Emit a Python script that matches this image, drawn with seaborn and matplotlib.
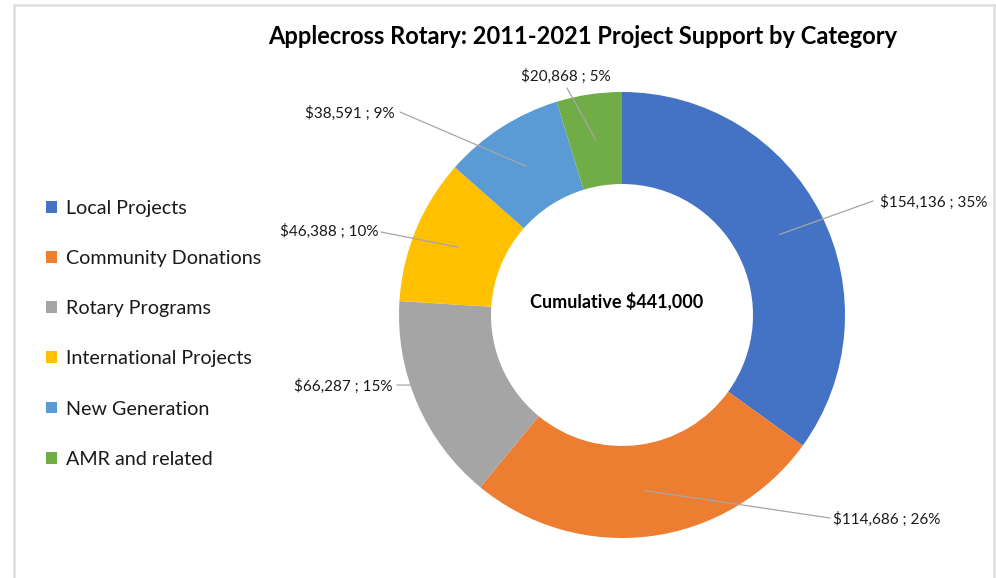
import numpy as np
import matplotlib
matplotlib.use("Agg")
import matplotlib.pyplot as plt
from matplotlib.patches import Rectangle
import seaborn as sns

categories = ["Local Projects", "Community Donations", "Rotary Programs",
              "International Projects", "New Generation", "AMR and related"]
values = [154136, 114686, 66287, 46388, 38591, 20868]
percents = [35, 26, 15, 10, 9, 5]
colors = ["#4472C4", "#ED7D31", "#A5A5A5", "#FFC000", "#5B9BD5", "#70AD47"]
title = "Applecross Rotary: 2011-2021 Project Support by Category"
center_label = "Cumulative $441,000"

sns.set_theme(style="white")
plt.rcParams["font.family"] = ["Lato", "DejaVu Sans"]

W, H = 996, 578
CX, CY, R = 622, 315, 223  # pixel layout of the donut
RIN = 131

fig = plt.figure(figsize=(W / 100, H / 100), dpi=100)
ax = fig.add_axes([0, 0, 1, 1])

wedges, _ = ax.pie(values, colors=colors, startangle=90, counterclock=False,
                   radius=1.0, wedgeprops=dict(width=1 - RIN / R, linewidth=0))
ax.set_aspect("auto")
ax.set_xlim(-CX / R, (W - CX) / R)
ax.set_ylim(-(H - CY) / R, CY / R)
ax.axis("off")


def px(x, y):
    return ((x - CX) / R, (CY - y) / R)


# label layout: (text x, text y, ha, line end x, line end y) in pixels
label_layout = [
    (880, 202, "left", 873, 201),
    (833, 519, "left", 830, 518),
    (392, 386, "right", 397, 385),
    (378, 231, "right", 381, 232),
    (395, 113, "right", 400, 112),
    (566, 76, "center", 567, 88),
]

rmid = (1 + RIN / R) / 2
for w, v, p, (tx, ty, ha, lx, ly) in zip(wedges, values, percents, label_layout):
    ang = np.deg2rad((w.theta1 + w.theta2) / 2)
    ax_, ay_ = rmid * np.cos(ang), rmid * np.sin(ang)
    ax.plot([px(lx, ly)[0], ax_], [px(lx, ly)[1], ay_], color="#A6A6A6", lw=0.9, zorder=3)
    ax.text(*px(tx, ty), f"${v:,} ; {p}%", ha=ha, va="center", fontsize=11, color="#1a1a1a")

ax.text(*px(617, 301), center_label, ha="center", va="center", fontsize=13,
        fontweight="bold", color="black")

fig.text(583 / W, 1 - 36 / H, title, ha="center", va="center", fontsize=17,
         fontweight="bold", color="black")

leg = fig.legend(wedges, categories, loc="upper left", bbox_to_anchor=(46 / W, 1 - 200 / H),
                 frameon=False, fontsize=14.2, labelspacing=1.68, handlelength=0.55,
                 handleheight=0.55, handletextpad=0.45, borderaxespad=0, borderpad=0)
for t in leg.get_texts():
    t.set_color("#1a1a1a")

fig.patches.append(Rectangle((14 / W, -0.05), (994 - 14) / W, 1.05 - 5 / H,
                             transform=fig.transFigure, fill=False,
                             edgecolor="#DDDDDD", lw=1.8, zorder=0))

fig.savefig("out.png", dpi=100, facecolor="white")
